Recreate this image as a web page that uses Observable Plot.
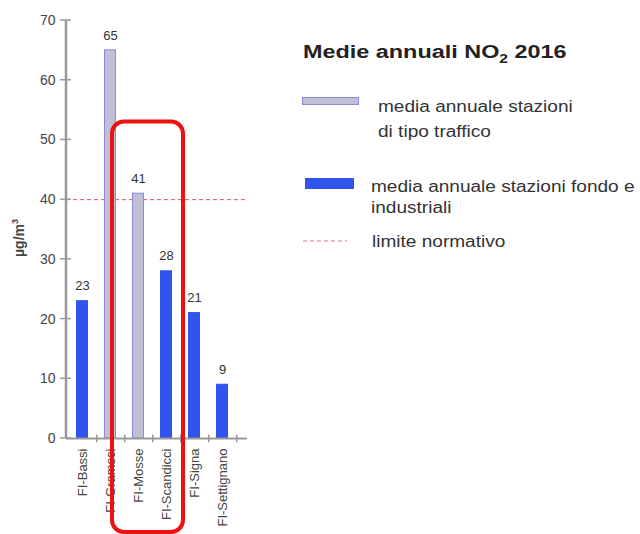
<!DOCTYPE html>
<html><head><meta charset="utf-8">
<script src="https://cdn.jsdelivr.net/npm/d3@7"></script>
<script src="https://cdn.jsdelivr.net/npm/@observablehq/plot@0.6"></script>
<style>
body{margin:0;background:#fff;font-family:"Liberation Sans",Arial,sans-serif;}
#wrap{position:relative;width:640px;height:534px;}
#legend{position:absolute;left:0;top:0;width:640px;height:534px;pointer-events:none;color:#333;font-size:16px;}
#legend .t{position:absolute;left:303px;top:40px;font-size:18px;line-height:24px;font-weight:bold;color:#222;transform:scaleX(1.3);transform-origin:0 0;white-space:nowrap;}
#legend .s{position:absolute;}
#legend .l{position:absolute;line-height:24px;transform:scaleX(1.19);transform-origin:0 0;white-space:nowrap;}
</style></head>
<body>
<div id="wrap"><div id="chart"></div><div id="legend"></div></div>
<script>
const stations = ["FI-Bassi","FI-Gramsci","FI-Mosse","FI-Scandicci","FI-Signa","FI-Settignano"];
const values = [23, 65, 41, 28, 21, 9];
const types = ["fondo","traffico","traffico","fondo","fondo","fondo"];
const limit = 40;
const yTicks = [0,10,20,30,40,50,60,70];
const yLabel = "µg/m";
const yLabelSup = "3";
const title = "Medie annuali NO";
const legendTraffic = ["media annuale stazioni","di tipo traffico"];
const legendFondo = ["media annuale stazioni fondo e","industriali"];
const legendLimit = "limite normativo";

const data = stations.map((s,i)=>({station:s, value:values[i], type:types[i]}));
const fillOf = t => t==="traffico" ? "#bfbfd6" : "#2f55ee";
const strokeOf = t => t==="traffico" ? "#8a8ad8" : "#2f55ee";

const plot = Plot.plot({
  width: 640, height: 534,
  marginLeft: 66, marginRight: 393, marginTop: 20, marginBottom: 96,
  style: {fontFamily: '"Liberation Sans", Arial, sans-serif', fontSize: "12px", color:"#333", background:"#fff"},
  x: {domain: stations, range: [66, 237], padding: 0},
  y: {domain: [0,70]},
  marks: [
    Plot.ruleY([limit], {stroke:"#e2506e", strokeDasharray:"4,3", strokeWidth:1}),
    Plot.barY(data, {x:"station", y:"value", fill: d=>fillOf(d.type), stroke: d=>strokeOf(d.type), strokeWidth:1, insetLeft:8.5, insetRight:8.5}),
    Plot.text(data, {x:"station", y:"value", text: d=>String(d.value), dy:-15, fontSize:13, fill:"#333"}),
    Plot.ruleY([0], {stroke:"#999", strokeWidth:2}),
    Plot.ruleX(stations, {x: d=>d, dx: 14.25, y1: 0.6, y2: -0.7, stroke:"#999", strokeWidth:1.5}),
    Plot.axisY({ticks: yTicks, tickSize: 0, tickPadding: 11, fill:"#444", fontSize:14, label: null}),
    Plot.axisX({tickSize: 0, tickRotate: -90, tickPadding: 10, fontSize: 13, fill:"#444", label: null})
  ]
});
document.getElementById("chart").appendChild(plot);

const svg = d3.select(plot);
const xs = plot.scale("x"), ys = plot.scale("y");
const bw = xs.bandwidth;
// y axis line and crossing ticks
const g = svg.append("g").attr("stroke","#999");
g.append("line").attr("x1",66).attr("x2",66).attr("y1",ys.apply(yTicks[yTicks.length-1])).attr("y2",ys.apply(0)).attr("stroke-width",2.5);
yTicks.forEach(t=>{ g.append("line").attr("x1",60).attr("x2",71).attr("y1",ys.apply(t)).attr("y2",ys.apply(t)).attr("stroke-width",1.5); });
// y axis label with superscript
const lab = svg.append("text").attr("transform","translate(24,238) rotate(-90)").attr("text-anchor","middle")
  .attr("font-size",14).attr("font-weight","bold").attr("fill","#444");
lab.append("tspan").text(yLabel);
lab.append("tspan").attr("font-size",9).attr("dy",-6).text(yLabelSup);

// red annotation box around FI-Mosse and FI-Scandicci
const left = xs.apply("FI-Mosse") - 12, right = xs.apply("FI-Scandicci") + bw + 3;
svg.append("rect").attr("x", left).attr("y", ys.apply(53)).attr("width", right-left)
  .attr("height", 532 - ys.apply(53)).attr("rx", 12).attr("fill","none").attr("stroke","#ee1111").attr("stroke-width",4);

// legend
const lg = document.getElementById("legend");
lg.innerHTML = `
<div class="t">${title}<sub style="font-size:12px">2</sub> 2016</div>
<div class="s" style="left:302px;top:97px;width:57px;height:8px;background:#bfbfd6;border:1px solid #8a8ad8;box-sizing:border-box"></div>
<div class="l" style="left:378px;top:95px">${legendTraffic[0]}</div>
<div class="l" style="left:378px;top:120px">${legendTraffic[1]}</div>
<div class="s" style="left:305px;top:178px;width:49px;height:11px;background:#2f55ee"></div>
<div class="l" style="left:371px;top:175px">${legendFondo[0]}</div>
<div class="l" style="left:371px;top:196px">${legendFondo[1]}</div>
<svg class="s" style="left:303px;top:236px" width="44" height="10"><line x1="0" x2="44" y1="5" y2="5" stroke="#e8708a" stroke-dasharray="4,3"/></svg>
<div class="l" style="left:372px;top:230px">${legendLimit}</div>`;
</script>
</body></html>
